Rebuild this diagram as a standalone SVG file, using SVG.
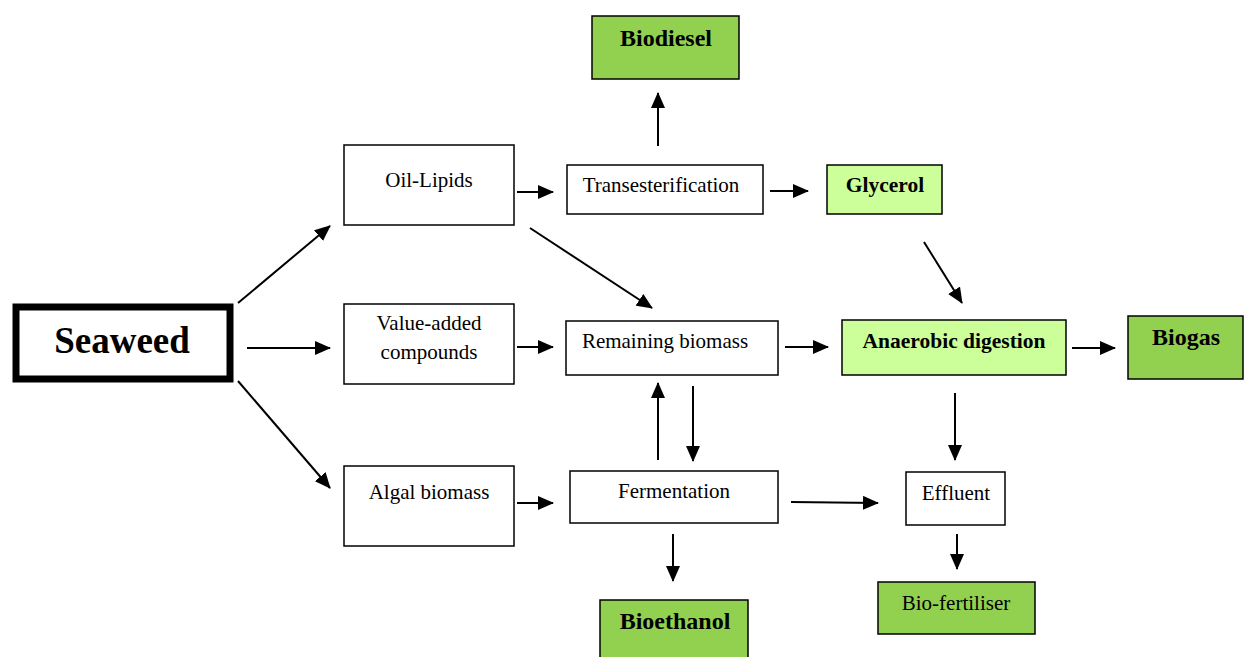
<svg xmlns="http://www.w3.org/2000/svg" width="1249" height="657" viewBox="0 0 1249 657">
<defs>
<marker id="ah" markerUnits="userSpaceOnUse" markerWidth="16" markerHeight="14" refX="15" refY="7" orient="auto">
<path d="M0,0 L16,7 L0,14 Z" fill="#000"/>
</marker>
<style>
.box{fill:#fff;stroke:#000;stroke-width:1.5}
.dark{fill:#92d050;stroke:#000;stroke-width:1.5}
.light{fill:#ccff99;stroke:#000;stroke-width:1.5}
.t{font-family:"Liberation Serif","Times New Roman",serif;font-size:21px;fill:#000;text-anchor:middle}
.b{font-weight:bold;font-size:21.5px}
.big{font-weight:bold;font-size:24px}
.c line{stroke:#000;stroke-width:2;marker-end:url(#ah)}
</style>
</defs>
<rect width="1249" height="657" fill="#fff"/>
<g id="seaweed"><rect x="16" y="307" width="214" height="72" fill="#fff" stroke="#000" stroke-width="7"/><text class="t" x="122" y="353" style="font-size:37px;font-weight:bold">Seaweed</text></g>
<g id="biodiesel"><rect class="dark" x="592" y="16" width="147" height="63"/><text class="t big" x="666" y="46">Biodiesel</text></g>
<g id="oil-lipids"><rect class="box" x="344" y="145" width="170" height="80"/><text class="t" x="429" y="187">Oil-Lipids</text></g>
<g id="transesterification"><rect class="box" x="567" y="165" width="196" height="49"/><text class="t" x="661" y="192">Transesterification</text></g>
<g id="glycerol"><rect class="light" x="827" y="165" width="115" height="49"/><text class="t b" x="885" y="192">Glycerol</text></g>
<g id="value-added"><rect class="box" x="344" y="304" width="170" height="80"/><text class="t" x="429" y="330">Value-added</text><text class="t" x="429" y="359">compounds</text></g>
<g id="remaining-biomass"><rect class="box" x="566" y="321" width="212" height="54"/><text class="t" x="665" y="348">Remaining biomass</text></g>
<g id="anaerobic-digestion"><rect class="light" x="842" y="320" width="224" height="55"/><text class="t b" x="954" y="348">Anaerobic digestion</text></g>
<g id="biogas"><rect class="dark" x="1128" y="316" width="115" height="63"/><text class="t big" x="1186" y="345">Biogas</text></g>
<g id="algal-biomass"><rect class="box" x="344" y="466" width="170" height="80"/><text class="t" x="429" y="499">Algal biomass</text></g>
<g id="fermentation"><rect class="box" x="570" y="471" width="208" height="52"/><text class="t" x="674" y="498">Fermentation</text></g>
<g id="effluent"><rect class="box" x="906" y="472" width="99" height="53"/><text class="t" x="956" y="500">Effluent</text></g>
<g id="bio-fertiliser"><rect class="dark" x="878" y="582" width="157" height="52"/><text class="t" x="956" y="610">Bio-fertiliser</text></g>
<g id="bioethanol"><rect class="dark" x="600" y="600" width="148" height="62"/><text class="t big" x="675" y="629">Bioethanol</text></g>
<g id="connectors" class="c">
<line x1="238" y1="303" x2="330" y2="226"/>
<line x1="247" y1="348" x2="330" y2="348"/>
<line x1="238" y1="381" x2="330" y2="488"/>
<line x1="517" y1="192" x2="553" y2="192"/>
<line x1="658" y1="146" x2="658" y2="93"/>
<line x1="770" y1="191" x2="808" y2="191"/>
<line x1="530" y1="228" x2="652" y2="308"/>
<line x1="924" y1="242" x2="962" y2="303"/>
<line x1="517" y1="347" x2="553" y2="347"/>
<line x1="785" y1="347" x2="828" y2="347"/>
<line x1="1072" y1="348" x2="1115" y2="348"/>
<line x1="955" y1="393" x2="955" y2="460"/>
<line x1="693" y1="386" x2="693" y2="461"/>
<line x1="658" y1="460" x2="658" y2="383"/>
<line x1="517" y1="503" x2="553" y2="503"/>
<line x1="791" y1="502" x2="878" y2="503"/>
<line x1="673" y1="534" x2="673" y2="581"/>
<line x1="957" y1="534" x2="957" y2="569"/>
</g>
</svg>
